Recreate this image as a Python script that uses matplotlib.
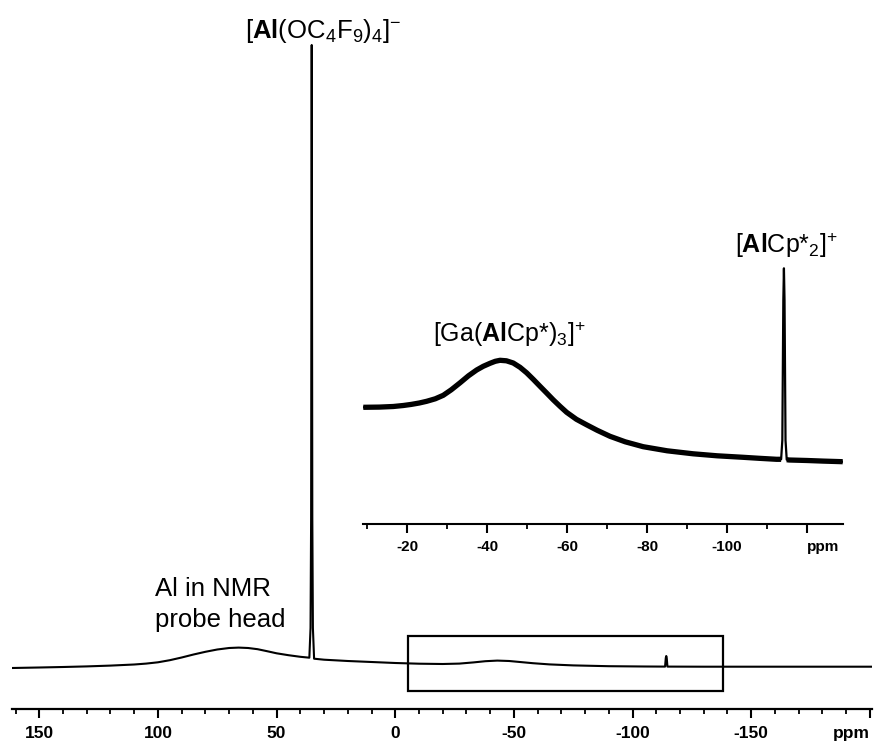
import matplotlib
matplotlib.use("Agg")
import matplotlib.pyplot as plt
from matplotlib.patches import Rectangle
import numpy as np

plt.rcParams['font.family'] = ['Liberation Sans', 'DejaVu Sans']
plt.rcParams['mathtext.fontset'] = 'custom'
plt.rcParams['mathtext.rm'] = 'Liberation Sans'
plt.rcParams['mathtext.it'] = 'Liberation Sans:italic'
plt.rcParams['mathtext.bf'] = 'Liberation Sans:bold'

# ---- main spectrum (ppm, intensity in arbitrary units) ----
main_ppm = [161.5, 150, 140, 130, 120, 110, 105, 100, 95, 90, 85, 80, 75, 70, 66, 62, 58, 54,
            50, 45, 40, 37, 36.2, 35.7, 35.45, 35.3, 35.2, 35.1, 34.95, 34.7, 34.2,
            30, 20, 10, 0, -10, -20, -27, -33, -38, -43, -48, -53, -58, -65, -75, -90,
            -105, -113.7, -114.0, -114.2, -114.4, -114.7, -130, -160, -200.9]
main_int = [0, 0.5, 1, 1.6, 2.4, 3.5, 4.4, 5.7, 7.8, 10.5, 13.5, 16.2, 18.5, 20, 20.4, 20, 18.8,
            16.8, 14.7, 12.8, 11.2, 10.5, 10.3, 40, 150, 450, 623, 450, 150, 40, 9.3,
            8.3, 7, 6, 5, 4.3, 4, 4.4, 5.6, 6.8, 7.4, 7, 5.9, 4.8, 3.6, 2.6, 1.8,
            1.5, 1.4, 10, 12, 10, 1.4, 1.3, 1.3, 1.3]

# ---- inset spectrum (expanded region) ----
inset_ppm = [-9, -13, -16.5, -19, -21, -23, -24.85, -27, -29, -31, -33.2, -35.3, -37.35,
             -39, -40.7, -42, -43.2, -44.8, -46.5, -48.2, -49.85, -51.5, -53.2, -54.8,
             -56.5, -58.2, -59.85, -62.3, -64.85, -67.5, -70.7, -74.5, -79, -85, -91.5,
             -97.5, -104, -108, -112.35, -113.5, -113.8, -114.05, -114.2, -114.35,
             -114.6, -114.9, -115.5, -120, -124, -128.9]
inset_int = [117, 117.2, 117.8, 118.8, 119.9, 121.3, 123, 125.5, 129, 134.5, 141.5, 148.5,
             154.3, 158, 161, 163, 164, 163.5, 161.3, 157, 151.5, 145, 138, 131.5,
             124.5, 118, 112, 105, 99.5, 94, 88, 82.5, 77.6, 73.5, 70.5,
             68.5, 67, 66, 65, 65, 84, 224, 256, 224,
             84, 64.6, 64.3, 63.8, 63.2, 62.6]

# ---- axis ticks ----
main_ticks = [150, 100, 50, 0, -50, -100, -150, -200]
main_tick_labels = ['150', '100', '50', '0', '-50', '-100', '-150', 'ppm']
inset_ticks = [-20, -40, -60, -80, -100, -120]
inset_tick_labels = ['-20', '-40', '-60', '-80', '-100', 'ppm']

# expanded region marked in the main spectrum
box_ppm = [-5.5, -138]
box_int = [-22.7, 32]

W, H = 880, 745
fig = plt.figure(figsize=(W / 100, H / 100), dpi=100)

def fx(x):
    return x / W

def fy(y):
    return 1 - y / H

# main axes
ax = fig.add_axes([fx(12), fy(709), fx(872) - fx(12), fy(40) - fy(709)])
ax.plot(main_ppm, main_int, color='black', lw=1.5, solid_joinstyle='round')
ax.set_xlim(161.5, -200.9)
ax.set_ylim(-41, 628)
for s in ['top', 'left', 'right']:
    ax.spines[s].set_visible(False)
ax.spines['bottom'].set_linewidth(1.6)
ax.set_yticks([])
ax.set_xticks(main_ticks)
ax.set_xticklabels(main_tick_labels, fontsize=12.5, fontweight='bold')
ax.get_xticklabels()[-1].set_horizontalalignment('right')
ax.set_xticks(np.arange(160, -201, -10), minor=True)
ax.tick_params(axis='x', which='major', direction='out', length=6.5, width=1.5, pad=5.5)
ax.tick_params(axis='x', which='minor', direction='out', length=3.6, width=1.3)
ax.patch.set_visible(False)
ax.add_patch(Rectangle((box_ppm[0], box_int[0]), box_ppm[1] - box_ppm[0],
                       box_int[1] - box_int[0], fill=False, lw=1.6, edgecolor='black'))

# inset axes
ins = fig.add_axes([fx(363.3), fy(524.3), fx(842.7) - fx(363.3), fy(250) - fy(524.3)])
ip = np.array(inset_ppm)
ii = np.array(inset_int)
ins.plot(ip, ii, color='black', lw=1.6)
band = (ip > -113.6) | (ip < -114.8)
ins.plot(np.where(band, ip, np.nan), np.where(band, ii, np.nan), color='black', lw=3.8,
         solid_capstyle='butt', solid_joinstyle='round')
ins.set_xlim(-9, -128.9)
ins.set_ylim(0, 274.3)
for s in ['top', 'left', 'right']:
    ins.spines[s].set_visible(False)
ins.spines['bottom'].set_linewidth(1.5)
ins.set_yticks([])
ins.set_xticks(inset_ticks)
ins.set_xticklabels(inset_tick_labels, fontsize=11, fontweight='bold')
ins.get_xticklabels()[-1].set_horizontalalignment('left')
ins.set_xticks(np.arange(-10, -121, -20), minor=True)
ins.tick_params(axis='x', which='major', direction='out', length=6.5, width=1.5, pad=5)
ins.tick_params(axis='x', which='minor', direction='out', length=3.6, width=1.3)
ins.patch.set_visible(False)

# labels
fig.text(fx(323), fy(38), r'[$\mathbf{Al}$(OC$_4$F$_9$)$_4$]$^{-}$', fontsize=18.5,
         ha='center', va='baseline')
fig.text(fx(509), fy(341.7), r'[Ga($\mathbf{Al}$Cp*)$_3$]$^{+}$', fontsize=18,
         ha='center', va='baseline')
fig.text(fx(786), fy(253), r'[$\mathbf{Al}$Cp*$_2$]$^{+}$', fontsize=18,
         ha='center', va='baseline')
fig.text(fx(155), fy(596), 'Al in NMR', fontsize=18.5, ha='left', va='baseline')
fig.text(fx(155), fy(626.7), 'probe head', fontsize=18.5, ha='left', va='baseline')

fig.savefig('out.png', dpi=100)
